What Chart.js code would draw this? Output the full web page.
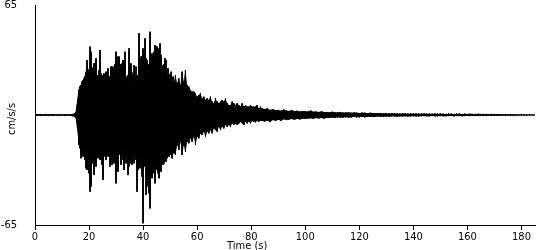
<!DOCTYPE html>
<html>
<head>
<meta charset="utf-8">
<script src="https://cdn.jsdelivr.net/npm/chart.js@4.4.0/dist/chart.umd.min.js"></script>
<style>
  html, body { margin: 0; padding: 0; background: #fff; }
  canvas { display: block; }
</style>
</head>
<body>
<canvas id="myChart" width="550" height="250"></canvas>
<script>
// Axes
const xTicks = [0, 20, 40, 60, 80, 100, 120, 140, 160, 180];
const yTicks = [-65, 65];
const xTitle = 'Time (s)';
const yTitle = 'cm/s/s';

// Accélérogramme : enveloppes haute / basse (cm/s/s)
// bloc 0 : avant l'arrivée des ondes, 1 échantillon / s
const preStart = 0, preStep = 1;
const preTop = [0.5, 0.4, 0.5, 0.4, 0.5, 0.4, 0.5, 0.4, 0.3, 0.4, 0.3, 0.4, 0.3, 0.4, 0.6, 1.5];
const preBottom = [-0.5, -0.4, -0.5, -0.4, -0.5, -0.4, -0.4, -0.5, -0.3, -0.4, -0.3, -0.4, -0.3, -0.5, -0.7, -1.5];

// bloc 1 : phase forte, 0.37 s entre deux colonnes
const strongStart = 16.29, strongStep = 0.37;
const strongTop = [
  15.0, 17.0, 17.7, 19.7, 20.5, 21.7, 23.0, 25.6, 32.5, 23.6,
  27.0, 40.4, 37.4, 26.6, 28.0, 30.5, 30.5, 33.5, 21.7, 23.6,
  26.6, 38.4, 24.6, 23.0, 23.6, 24.6, 22.7, 25.6, 24.6, 27.6,
  23.0, 21.7, 28.6, 28.6, 23.6, 28.6, 30.0, 37.4, 18.7, 34.5,
  34.5, 30.0, 28.6, 30.5, 32.5, 30.0, 37.4, 22.7, 21.7, 23.6,
  39.4, 28.6, 30.5, 25.0, 20.7, 29.5, 16.7, 28.6, 23.6, 19.7,
  48.3, 28.6, 34.5, 34.5, 39.4, 32.5, 45.3, 33.5, 32.5, 27.6,
  30.0, 49.2, 35.5, 36.4, 33.5, 37.4, 41.4, 40.4, 40.4, 38.0,
  39.4, 42.3, 35.5, 29.5, 22.7, 30.0, 33.5, 32.5, 20.7, 27.6,
  24.0, 21.7, 25.6, 21.7, 22.7, 19.7
];
const strongBottom = [
  -17.7, -19.7, -25.6, -20.7, -24.6, -22.7, -26.6, -31.5, -32.5, -25.6,
  -34.5, -45.3, -42.3, -28.6, -25.6, -35.5, -26.6, -30.5, -23.6, -25.6,
  -24.6, -26.6, -26.6, -29.5, -38.4, -24.6, -20.7, -26.6, -21.7, -24.6,
  -22.7, -30.5, -24.6, -29.5, -25.6, -28.6, -26.6, -40.4, -26.6, -33.5,
  -20.7, -23.6, -29.5, -19.7, -26.6, -32.5, -22.7, -28.6, -20.7, -35.5,
  -30.5, -28.6, -26.6, -29.5, -21.7, -28.6, -22.7, -26.6, -45.3, -32.5,
  -29.5, -31.5, -21.7, -36.4, -64.0, -30.5, -27.6, -47.3, -42.3, -33.5,
  -46.3, -55.2, -35.5, -37.4, -29.5, -34.5, -40.4, -32.5, -28.6, -34.5,
  -37.4, -30.5, -33.5, -27.6, -29.5, -28.6, -24.6, -27.6, -25.6, -22.7,
  -24.6, -22.7, -23.6, -25.6, -21.7, -22.7
];

// bloc 2 : décroissance, 0.617 s
const decayStart = 51.97, decayStep = 0.617;
const decayTop = [
  23.6, 18.7, 21.7, 17.7, 25.6, 19.7, 26.6, 17.7, 16.7, 14.8,
  13.8, 13.8, 12.8, 10.8, 11.8, 12.8, 9.8, 10.8, 8.9, 9.8,
  8.9, 10.8, 7.9, 6.9, 9.8, 7.9, 6.9, 7.9, 8.9, 7.9,
  9.8, 6.9, 5.9, 5.9, 7.9, 6.9, 5.9, 6.9, 5.9, 4.9,
  6.9, 4.9, 5.9, 4.9, 4.9, 5.9, 4.9, 4.9, 4.9, 5.9,
  3.9, 4.9, 3.9
];
const decayBottom = [
  -23.6, -17.7, -20.7, -15.8, -23.6, -17.7, -21.7, -15.8, -16.7, -13.8,
  -15.8, -12.8, -17.7, -12.8, -13.8, -10.8, -11.8, -9.8, -12.8, -9.8,
  -10.8, -8.9, -10.8, -7.9, -8.9, -9.8, -6.9, -8.9, -6.9, -7.9,
  -5.9, -6.9, -5.9, -6.9, -4.9, -5.9, -4.9, -5.9, -4.9, -3.9,
  -4.9, -5.9, -3.9, -4.9, -3.9, -4.9, -3.5, -3.9, -4.3, -3.5,
  -3.9, -3.5, -3.5
];

// bloc 3 : coda, 1 échantillon / s de 85 à 185 s
const codaStart = 85, codaStep = 1;
const codaTop = [
  3.5, 4.0, 3.0, 3.5, 2.8,
  3.0, 2.5, 3.2, 2.6, 2.4, 3.0, 2.2, 2.5, 2.0, 2.4,
  2.2, 2.0, 2.6, 1.9, 2.0, 1.8, 2.2, 1.7, 1.8, 1.6,
  1.9, 1.5, 1.6, 1.8, 1.4, 1.5, 1.6, 1.3, 1.5, 1.4,
  1.2, 1.4, 1.3, 1.1, 1.3, 1.2, 1.0, 1.2, 1.1, 1.0,
  1.1, 0.9, 1.0, 1.1, 0.9, 0.8, 1.0, 0.9, 0.8, 0.9,
  0.8, 0.9, 0.7, 0.8, 0.9, 0.7, 0.8, 0.7, 0.8, 0.7,
  0.8, 0.7, 0.6, 0.8, 0.7, 0.6, 0.7, 0.8, 0.6, 0.7,
  0.6, 0.7, 0.6, 0.5, 0.7, 0.6, 0.5, 0.6, 0.5, 0.6,
  0.5, 0.4, 0.5, 0.4, 0.4, 0.3, 0.4, 0.3, 0.3, 0.3,
  0.3, 0.3, 0.2, 0.3, 0.2, 0.2
];
const codaBottom = [
  -3.8, -3.2, -4.2, -3.0, -3.5,
  -2.8, -3.4, -2.5, -3.0, -2.6, -2.4, -2.9, -2.2, -2.6, -2.0,
  -2.4, -2.1, -1.9, -2.3, -1.8, -2.0, -1.7, -2.1, -1.6, -1.8,
  -1.5, -1.8, -1.4, -1.6, -1.5, -1.3, -1.6, -1.4, -1.2, -1.4,
  -1.3, -1.1, -1.3, -1.2, -1.0, -1.2, -1.1, -0.9, -1.1, -1.0,
  -0.9, -1.0, -0.8, -0.9, -1.0, -0.8, -0.9, -0.7, -0.9, -0.8,
  -0.7, -0.8, -0.8, -0.7, -0.6, -0.8, -0.7, -0.6, -0.7, -0.8,
  -0.6, -0.7, -0.7, -0.6, -0.5, -0.7, -0.6, -0.5, -0.7, -0.6,
  -0.5, -0.6, -0.5, -0.6, -0.5, -0.4, -0.6, -0.5, -0.4, -0.5,
  -0.4, -0.5, -0.4, -0.3, -0.4, -0.3, -0.3, -0.4, -0.3, -0.2,
  -0.3, -0.2, -0.3, -0.2, -0.2, -0.2
];

const blocks = [
  { start: preStart, step: preStep, top: preTop, bottom: preBottom },
  { start: strongStart, step: strongStep, top: strongTop, bottom: strongBottom },
  { start: decayStart, step: decayStep, top: decayTop, bottom: decayBottom },
  { start: codaStart, step: codaStep, top: codaTop, bottom: codaBottom }
];

// Trace en zigzag : haut puis bas pour chaque échantillon
function buildTrace() {
  const points = [];
  blocks.forEach(b => {
    b.top.forEach((v, i) => {
      const t = b.start + i * b.step;
      points.push({ x: t, y: v });
      points.push({ x: t, y: b.bottom[i] });
    });
  });
  return points;
}

// Enveloppe seule (pour remplir le corps du signal)
function buildEnvelope(side) {
  const points = [];
  blocks.forEach(b => {
    b[side].forEach((v, i) => points.push({ x: b.start + i * b.step, y: v }));
  });
  return points;
}

const fontFamily = '"Liberation Sans Narrow", "DejaVu Sans Condensed", "Liberation Sans", sans-serif';

// Titres des axes (placés comme sur l'original)
const axisTitles = {
  id: 'axisTitles',
  afterDraw(chart) {
    const ctx = chart.ctx;
    ctx.save();
    ctx.fillStyle = '#000';
    ctx.font = '11px ' + fontFamily;
    ctx.textAlign = 'center';
    ctx.textBaseline = 'alphabetic';
    ctx.fillText(xTitle, chart.scales.x.getPixelForValue(78.5), 249);
    ctx.translate(12, (chart.chartArea.top + chart.chartArea.bottom) / 2 + 4);
    ctx.rotate(-Math.PI / 2);
    ctx.textBaseline = 'middle';
    ctx.fillText(yTitle, 0, 0);
    ctx.restore();
  }
};

const ctx = document.getElementById('myChart').getContext('2d');
new Chart(ctx, {
  type: 'line',
  data: {
    datasets: [
      {
        // enveloppe haute, remplie jusqu'à l'enveloppe basse
        data: buildEnvelope('top'),
        borderWidth: 0,
        borderColor: 'rgba(0,0,0,0)',
        backgroundColor: '#000',
        pointRadius: 0,
        tension: 0,
        fill: '+1'
      },
      {
        data: buildEnvelope('bottom'),
        borderWidth: 0,
        borderColor: 'rgba(0,0,0,0)',
        pointRadius: 0,
        tension: 0,
        fill: false
      },
      {
        data: buildTrace(),
        borderColor: '#000',
        borderWidth: 1,
        pointRadius: 0,
        tension: 0,
        fill: false
      }
    ]
  },
  options: {
    responsive: false,
    animation: false,
    devicePixelRatio: 1,
    layout: { padding: { top: 5, right: 15, bottom: 0, left: 0 } },
    scales: {
      x: {
        type: 'linear',
        min: 0,
        max: 185,
        afterBuildTicks: scale => { scale.ticks = xTicks.map(v => ({ value: v })); },
        afterFit: scale => { scale.height = 25; },
        ticks: {
          color: '#000',
          padding: 1,
          maxRotation: 0,
          font: { family: fontFamily, size: 11 }
        },
        grid: { drawOnChartArea: false, drawTicks: true, tickLength: 5, color: '#000' },
        border: { display: true, color: '#000', width: 1 }
      },
      y: {
        type: 'linear',
        min: -65,
        max: 65,
        afterBuildTicks: scale => { scale.ticks = yTicks.map(v => ({ value: v })); },
        afterFit: scale => {
          scale.width = 35;
          scale.paddingTop = 0;
          scale.paddingBottom = 0;
        },
        ticks: {
          color: '#000',
          padding: 18,
          font: { family: fontFamily, size: 11 }
        },
        grid: { drawOnChartArea: false, drawTicks: false, color: '#000' },
        border: { display: true, color: '#000', width: 1 }
      }
    },
    plugins: {
      legend: { display: false },
      tooltip: { enabled: false }
    }
  },
  plugins: [axisTitles]
});
</script>
</body>
</html>
